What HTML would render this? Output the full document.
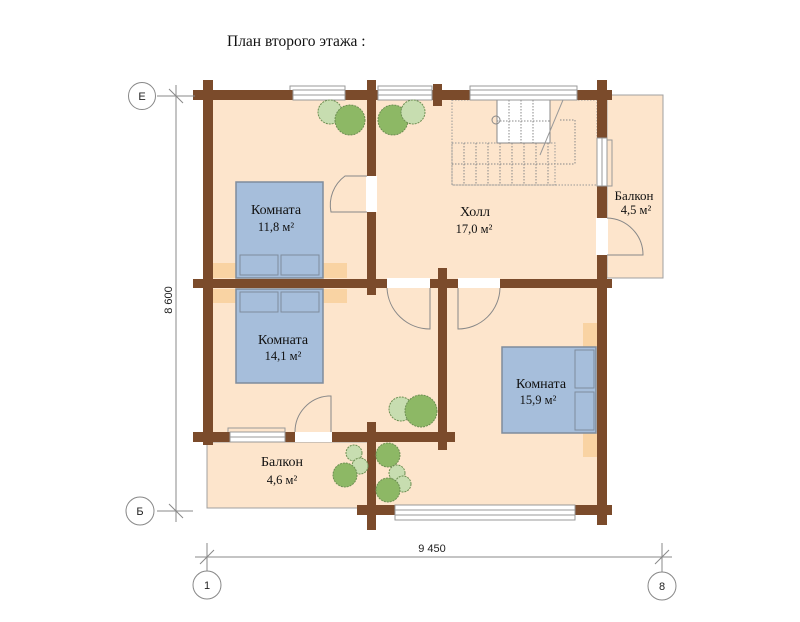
<!DOCTYPE html>
<html><head><meta charset="utf-8"><style>
html,body{margin:0;padding:0;background:#fff;}
svg{display:block;}
.t{font-family:"Liberation Serif",serif;fill:#111;}
.s{font-family:"Liberation Sans",sans-serif;fill:#222;}
</style></head><body>
<svg width="800" height="622" viewBox="0 0 800 622" xmlns="http://www.w3.org/2000/svg">
<rect width="800" height="622" fill="#fff"/>
<text x="227" y="46" class="t" font-size="15.5">План второго этажа :</text>

<rect x="207" y="442" width="164" height="66" fill="#fde5cc" stroke="#a0a0a0" stroke-width="1"/>
<rect x="607" y="95" width="56" height="183" fill="#fde5cc" stroke="#a0a0a0" stroke-width="1"/>
<path d="M208 95 H602 V510 H371 V437 H208 Z" fill="#fde5cc"/>

<rect x="452" y="100" width="145" height="85" fill="none" stroke="#999" stroke-width="1" stroke-dasharray="1.5,1.5"/>
<rect x="452" y="143" width="103" height="42" fill="none" stroke="#999" stroke-width="1" stroke-dasharray="1.5,1.5"/>
<rect x="497" y="100" width="53" height="43" fill="#fff" stroke="#888" stroke-width="1"/>
<g stroke="#888" stroke-width="1" stroke-dasharray="1.5,1.5">
<line x1="509" y1="100" x2="509" y2="143"/><line x1="521" y1="100" x2="521" y2="143"/><line x1="533" y1="100" x2="533" y2="143"/>
<line x1="497" y1="121" x2="550" y2="121"/>
<line x1="464" y1="143" x2="464" y2="185"/><line x1="476" y1="143" x2="476" y2="185"/><line x1="488" y1="143" x2="488" y2="185"/>
<line x1="500" y1="143" x2="500" y2="185"/><line x1="512" y1="143" x2="512" y2="185"/><line x1="524" y1="143" x2="524" y2="185"/>
<line x1="536" y1="143" x2="536" y2="185"/><line x1="548" y1="143" x2="548" y2="185"/>
<line x1="452" y1="164" x2="575" y2="164"/>
<line x1="560" y1="120" x2="575" y2="120"/><line x1="575" y1="120" x2="575" y2="164"/>
</g>
<line x1="563" y1="100" x2="540" y2="155" stroke="#999" stroke-width="1"/>
<circle cx="496" cy="120" r="4" fill="none" stroke="#888"/>

<g fill="#f9d3a3">
<rect x="212" y="263" width="24" height="15"/><rect x="323" y="263" width="24" height="15"/>
<rect x="212" y="289" width="24" height="14"/><rect x="323" y="289" width="24" height="14"/>
<rect x="583" y="323" width="14" height="24"/><rect x="583" y="433" width="14" height="24"/>
</g>
<g fill="#a6bedb" stroke="#7f8c9c" stroke-width="1.5">
<rect x="236" y="182" width="87" height="96"/>
<rect x="236" y="289" width="87" height="94"/>
<rect x="502" y="347" width="94" height="86"/>
</g>
<g fill="none" stroke="#7f8c9c" stroke-width="1">
<rect x="240" y="255" width="38" height="20"/><rect x="281" y="255" width="38" height="20"/>
<rect x="240" y="292" width="38" height="20"/><rect x="281" y="292" width="38" height="20"/>
<rect x="575" y="350" width="19" height="38"/><rect x="575" y="392" width="19" height="38"/>
</g>

<g fill="#7b4b2b">
<rect x="193" y="90" width="419" height="10"/>
<rect x="203" y="80" width="10" height="365"/>
<rect x="597" y="80" width="10" height="445"/>
<rect x="367" y="80" width="9" height="215"/>
<rect x="433" y="84" width="9" height="22"/>
<rect x="193" y="279" width="419" height="9"/>
<rect x="438" y="268" width="9" height="182"/>
<rect x="193" y="432" width="262" height="10"/>
<rect x="367" y="422" width="9" height="108"/>
<rect x="357" y="505" width="255" height="10"/>
</g>

<g fill="#fff" stroke="#999" stroke-width="1">
<rect x="293" y="90" width="52" height="10"/>
<rect x="378" y="90" width="54" height="10"/>
<rect x="470" y="90" width="107" height="10"/>
<rect x="395" y="505" width="180" height="10"/>
<rect x="230" y="432" width="55" height="10"/>
<rect x="597" y="138" width="10" height="48"/>
</g>
<g fill="none" stroke="#999" stroke-width="1">
<line x1="293" y1="95" x2="345" y2="95"/><line x1="378" y1="95" x2="432" y2="95"/>
<line x1="470" y1="95" x2="577" y2="95"/><line x1="395" y1="510" x2="575" y2="510"/>
<line x1="230" y1="437" x2="285" y2="437"/><line x1="602" y1="138" x2="602" y2="186"/>
<path d="M290 90 V86 H345 V90"/><path d="M378 90 V86 H432 V90"/><path d="M470 90 V86 H577 V90"/>
<path d="M395 515 V520 H575 V515"/><path d="M228 432 V428 H285 V432"/><path d="M607 140 H612 V186 H607"/>
</g>

<g fill="#fff">
<rect x="366" y="176" width="11" height="36"/>
<rect x="387" y="278" width="43" height="10"/>
<rect x="458" y="278" width="42" height="10"/>
<rect x="295" y="432" width="37" height="10"/>
<rect x="596" y="218" width="12" height="37"/>
</g>
<g fill="none" stroke="#888" stroke-width="1">
<path d="M367 176 H345 A36 36 0 0 0 331 212 H367"/>
<path d="M430 288 V329 A43 43 0 0 1 387 288"/>
<path d="M458 288 V329 A42 42 0 0 0 500 288"/>
<path d="M331 432 V396 H328 A36 36 0 0 0 295 432"/>
<path d="M607 218 A37 37 0 0 1 643 255 H607"/>
</g>

<g stroke="#6d8f52" stroke-width="1" stroke-dasharray="2,1">
<circle cx="330" cy="112" r="12" fill="#c7ddb0"/>
<circle cx="350" cy="120" r="15" fill="#8db865"/>
<circle cx="393" cy="120" r="15" fill="#8db865"/>
<circle cx="413" cy="112" r="12" fill="#c7ddb0"/>
<circle cx="401" cy="409" r="12" fill="#c7ddb0"/>
<circle cx="421" cy="411" r="16" fill="#8db865"/>
<circle cx="354" cy="453" r="8" fill="#c7ddb0"/>
<circle cx="360" cy="466" r="8" fill="#c7ddb0"/>
<circle cx="345" cy="475" r="12" fill="#8db865"/>
<circle cx="388" cy="455" r="12" fill="#8db865"/>
<circle cx="397" cy="473" r="8" fill="#c7ddb0"/>
<circle cx="403" cy="484" r="8" fill="#c7ddb0"/>
<circle cx="388" cy="490" r="12" fill="#8db865"/>
</g>

<g class="t" text-anchor="middle">
<text x="276" y="214" font-size="14">Комната</text>
<text x="276" y="231" font-size="12.5">11,8 м²</text>
<text x="283" y="344" font-size="14">Комната</text>
<text x="283" y="360" font-size="12.5">14,1 м²</text>
<text x="541" y="388" font-size="14">Комната</text>
<text x="538" y="404" font-size="12.5">15,9 м²</text>
<text x="475" y="216" font-size="14">Холл</text>
<text x="474" y="233" font-size="12.5">17,0 м²</text>
<text x="634" y="200" font-size="13">Балкон</text>
<text x="636" y="214" font-size="12.5">4,5 м²</text>
<text x="282" y="466" font-size="14">Балкон</text>
<text x="282" y="484" font-size="12.5">4,6 м²</text>
</g>

<g stroke="#888" stroke-width="1" fill="none">
<line x1="176" y1="85" x2="176" y2="522"/>
<line x1="157" y1="96" x2="195" y2="96"/><line x1="169" y1="89" x2="183" y2="103"/>
<line x1="157" y1="511" x2="193" y2="511"/><line x1="169" y1="504" x2="183" y2="518"/>
<line x1="195" y1="557" x2="672" y2="557"/>
<line x1="207" y1="543" x2="207" y2="571"/><line x1="200" y1="564" x2="214" y2="550"/>
<line x1="662" y1="543" x2="662" y2="572"/><line x1="655" y1="564" x2="669" y2="550"/>
<circle cx="142" cy="96" r="13.5"/>
<circle cx="140" cy="511" r="14"/>
<circle cx="207" cy="585" r="14"/>
<circle cx="662" cy="586" r="14"/>
</g>
<g class="s" font-size="11" text-anchor="middle">
<text x="142" y="100">Е</text>
<text x="140" y="515">Б</text>
<text x="207" y="589">1</text>
<text x="662" y="590">8</text>
<text x="432" y="552">9 450</text>
<text x="0" y="0" transform="translate(172 300) rotate(-90)">8 600</text>
</g>
</svg>
</body></html>
